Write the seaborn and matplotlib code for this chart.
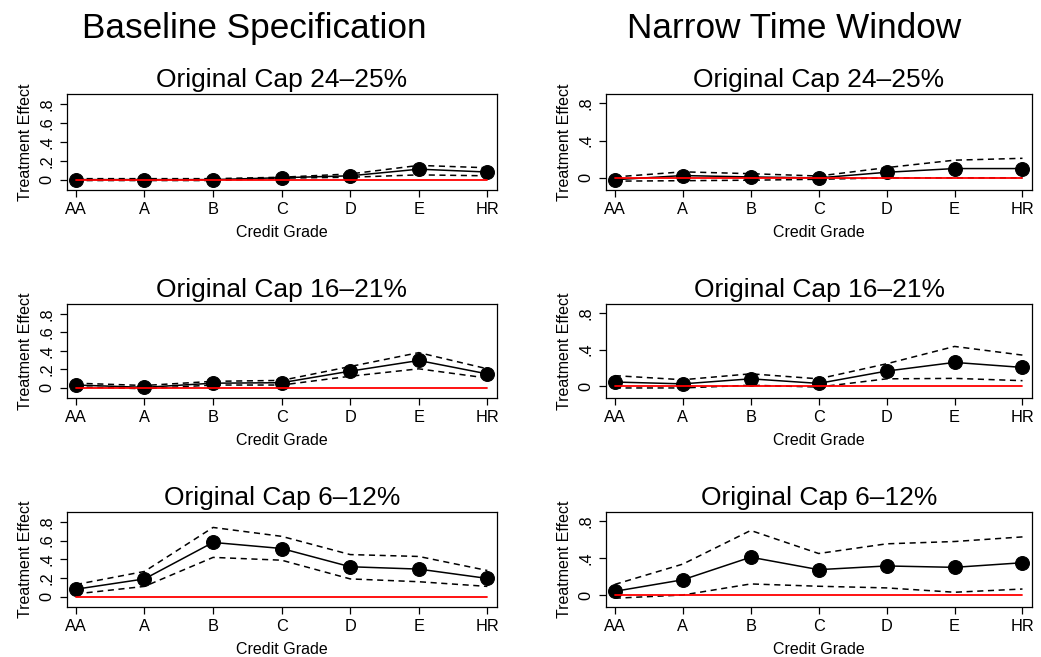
import numpy as np
import pandas as pd
import matplotlib
matplotlib.use("Agg")
import matplotlib.pyplot as plt
import seaborn as sns

# ---------------- data ----------------
grades = ["AA", "A", "B", "C", "D", "E", "HR"]

col_titles = ["Baseline Specification", "Narrow Time Window"]
row_titles = ["Original Cap 24\u201325%", "Original Cap 16\u201321%", "Original Cap 6\u201312%"]

# Baseline specification
base_24_est = [0.00, 0.00, 0.00, 0.02, 0.04, 0.11, 0.08]
base_24_hi = [0.01, 0.01, 0.01, 0.025, 0.06, 0.15, 0.125]
base_24_lo = [-0.01, -0.01, -0.01, 0.015, 0.025, 0.05, 0.04]

base_16_est = [0.03, 0.005, 0.05, 0.055, 0.18, 0.295, 0.15]
base_16_hi = [0.05, 0.025, 0.07, 0.08, 0.23, 0.38, 0.205]
base_16_lo = [0.01, -0.01, 0.03, 0.03, 0.125, 0.205, 0.105]

base_6_est = [0.08, 0.19, 0.58, 0.515, 0.32, 0.295, 0.195]
base_6_hi = [0.13, 0.27, 0.74, 0.645, 0.45, 0.43, 0.28]
base_6_lo = [0.03, 0.11, 0.42, 0.39, 0.19, 0.16, 0.11]

# Narrow time window
narrow_24_est = [-0.02, 0.025, 0.01, 0.00, 0.06, 0.10, 0.10]
narrow_24_hi = [0.01, 0.065, 0.045, 0.02, 0.11, 0.19, 0.21]
narrow_24_lo = [-0.035, -0.03, -0.025, -0.015, 0.00, 0.00, 0.00]

narrow_16_est = [0.045, 0.025, 0.08, 0.03, 0.165, 0.26, 0.205]
narrow_16_hi = [0.115, 0.07, 0.135, 0.08, 0.245, 0.435, 0.34]
narrow_16_lo = [-0.02, -0.02, 0.01, -0.01, 0.08, 0.085, 0.06]

narrow_6_est = [0.04, 0.165, 0.41, 0.275, 0.315, 0.30, 0.35]
narrow_6_hi = [0.115, 0.335, 0.70, 0.45, 0.555, 0.58, 0.63]
narrow_6_lo = [-0.035, 0.00, 0.12, 0.095, 0.077, 0.03, 0.065]

left_yticks = [0, 0.2, 0.4, 0.6, 0.8]
left_yticklabels = ["0", ".2", ".4", ".6", ".8"]
right_yticks = [0, 0.4, 0.8]
right_yticklabels = ["0", ".4", ".8"]

panels = [
    [(base_24_est, base_24_hi, base_24_lo), (narrow_24_est, narrow_24_hi, narrow_24_lo)],
    [(base_16_est, base_16_hi, base_16_lo), (narrow_16_est, narrow_16_hi, narrow_16_lo)],
    [(base_6_est, base_6_hi, base_6_lo), (narrow_6_est, narrow_6_hi, narrow_6_lo)],
]

# ---------------- style ----------------
sns.set_theme(style="ticks")
plt.rcParams["font.family"] = ["Liberation Sans", "DejaVu Sans"]

W, H = 1041, 657
fig = plt.figure(figsize=(W / 100, H / 100), dpi=100)
fig.patch.set_facecolor("white")

col_x = [(67, 497), (606, 1032)]
row_y = [(94, 190), (304, 398), (512, 607)]

pos = np.arange(1, len(grades) + 1)

for r in range(3):
    for c in range(2):
        x0, x1 = col_x[c]
        y0, y1 = row_y[r]
        ax = fig.add_axes([x0 / W, 1 - y1 / H, (x1 - x0) / W, (y1 - y0) / H])
        ax.set_facecolor("white")
        est, hi, lo = panels[r][c]
        df = pd.DataFrame({"pos": pos, "est": est, "hi": hi, "lo": lo,
                           "zero": np.zeros(len(pos))})
        sns.lineplot(data=df, x="pos", y="est", ax=ax, color="black", lw=1.1,
                     marker="o", markersize=10, markeredgecolor="black",
                     markerfacecolor="black", zorder=3)
        sns.lineplot(data=df, x="pos", y="hi", ax=ax, color="black", lw=1.1,
                     zorder=4).lines[-1].set_dashes((4, 3))
        sns.lineplot(data=df, x="pos", y="lo", ax=ax, color="black", lw=1.1,
                     zorder=4).lines[-1].set_dashes((4, 3))
        sns.lineplot(data=df, x="pos", y="zero", ax=ax, color="red", lw=1.3,
                     zorder=5)

        ax.set_xlim(0.87, 7.14)
        if c == 0:
            ax.set_ylim(-0.11, 0.905)
            ax.set_yticks(left_yticks)
            ax.set_yticklabels(left_yticklabels, rotation=90, va="center")
        else:
            ax.set_ylim(-0.13, 0.90)
            ax.set_yticks(right_yticks)
            ax.set_yticklabels(right_yticklabels, rotation=90, va="center")
        ax.set_xticks(pos)
        ax.set_xticklabels(grades)
        ax.tick_params(axis="both", direction="out", length=5, width=0.9,
                       color="black", labelsize=11.8, labelcolor="black", pad=3.5)
        ax.tick_params(axis="y", pad=4)
        for s in ax.spines.values():
            s.set_visible(True)
            s.set_color("black")
            s.set_linewidth(0.9)
        ax.set_xlabel("Credit Grade", fontsize=11.5, color="black", labelpad=6)
        ax.set_ylabel("Treatment Effect", fontsize=11.5, color="black", labelpad=5)
        ax.set_title(row_titles[r], fontsize=19, color="black", pad=5)
        ax.grid(False)

fig.text(254 / W, 1 - 38 / H, col_titles[0], ha="center", va="baseline",
         fontsize=25.3, color="black")
fig.text(794 / W, 1 - 38 / H, col_titles[1], ha="center", va="baseline",
         fontsize=25.3, color="black")

fig.savefig("out.png", dpi=100, facecolor="white")
